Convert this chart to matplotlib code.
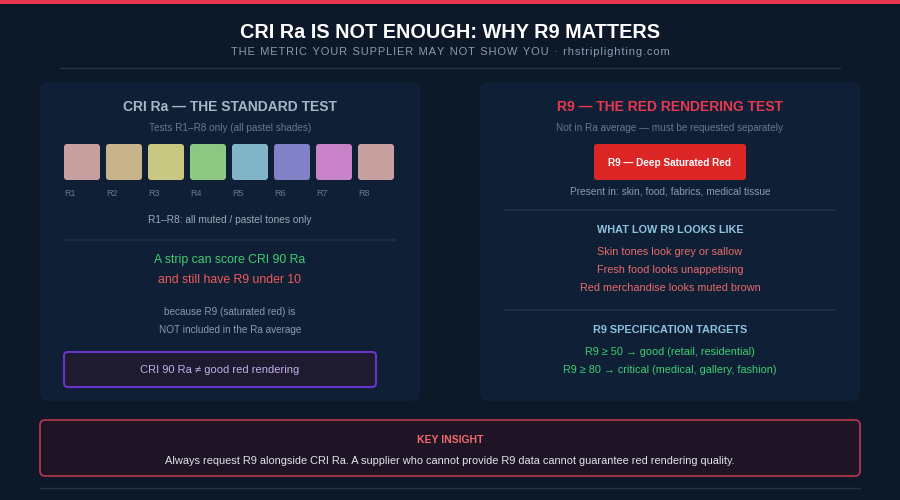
import matplotlib
matplotlib.use("Agg")
import matplotlib.pyplot as plt
from matplotlib.patches import FancyBboxPatch, Rectangle

plt.rcParams['font.family'] = ['Liberation Sans', 'DejaVu Sans']

swatch_labels = ["R1", "R2", "R3", "R4", "R5", "R6", "R7", "R8"]
swatch_colors = ["#c8a0a0", "#c8b48a", "#c8c882", "#8cc882", "#82b4c8", "#8282c8", "#c882c8", "#c8a0a0"]
low_r9_effects = ["Skin tones look grey or sallow", "Fresh food looks unappetising", "Red merchandise looks muted brown"]
targets = ["R9 ≥ 50 → good (retail, residential)", "R9 ≥ 80 → critical (medical, gallery, fashion)"]

BG = "#0d1829"
PANEL = "#0f2036"
fig = plt.figure(figsize=(9, 5), dpi=100, facecolor=BG)
ax = fig.add_axes([0, 0, 1, 1])
ax.set_xlim(0, 900); ax.set_ylim(500, 0); ax.axis("off")
ax.set_facecolor(BG)

def box(x, y, w, h, fc, ec="none", lw=0, r=6):
    ax.add_patch(FancyBboxPatch((x, y), w, h, boxstyle=f"round,pad=0,rounding_size={r}",
                                fc=fc, ec=ec, lw=lw))

def t(x, y, s, size, color, weight="normal", ha="center"):
    ax.text(x, y, s, fontsize=size, color=color, fontweight=weight, ha=ha, va="center")

ax.add_patch(Rectangle((0, 0), 900, 4, fc="#e8384f", ec="none"))
t(450, 32, "CRI Ra IS NOT ENOUGH: WHY R9 MATTERS", 14.3, "white", "bold")
sub = "THE METRIC YOUR SUPPLIER MAY NOT SHOW YOU · rhstriplighting.com"
sub = "\u200a".join(sub).replace("\u200a \u200a", "\u2009\u200a\u2009")
t(450, 52, sub, 8, "#8a9bb0")
ax.plot([60, 840], [68, 68], color="#22344c", lw=1)

# left panel
box(40, 82, 380, 319, PANEL, r=8)
t(230, 107, "CRI Ra — THE STANDARD TEST", 10, "#a9b6c6", "bold")
t(230, 128, "Tests R1–R8 only (all pastel shades)", 7.2, "#66788e")
for i, (lab, c) in enumerate(zip(swatch_labels, swatch_colors)):
    x = 64 + i * 42
    box(x, 144, 36, 36, c, r=3)
    t(x, 193, lab, 6.5, "#66788e", ha="left")
t(230, 220, "R1–R8: all muted / pastel tones only", 7.3, "#9aa8b8")
ax.plot([64, 396], [240, 240], color="#1e3048", lw=1.2)
t(230, 260, "A strip can score CRI 90 Ra", 8.8, "#3ecf72")
t(230, 280, "and still have R9 under 10", 8.8, "#f05a5a")
t(230, 312, "because R9 (saturated red) is", 7.2, "#8a9bb0")
t(230, 330, "NOT included in the Ra average", 7.2, "#8a9bb0")
box(64, 352, 312, 35, "#1e1a30", ec="#6a34c8", lw=1.5, r=4)
t(220, 370, "CRI 90 Ra ≠ good red rendering", 8, "#c0b0e6")

# right panel
box(480, 82, 380, 319, PANEL, r=8)
t(670, 107, "R9 — THE RED RENDERING TEST", 10, "#e8384f", "bold")
t(670, 128, "Not in Ra average — must be requested separately", 7.2, "#66788e")
box(594, 144, 152, 36, "#dc2626", r=3)
t(670, 163, "R9 — Deep Saturated Red", 7.2, "white", "bold")
t(670, 192, "Present in: skin, food, fabrics, medical tissue", 7.3, "#8a9bb0")
ax.plot([504, 836], [210, 210], color="#1e3048", lw=1.2)
t(670, 230, "WHAT LOW R9 LOOKS LIKE", 7.8, "#8ec3e0", "bold")
for i, s in enumerate(low_r9_effects):
    t(670, 252 + i * 18, s, 7.8, "#e86a6a")
ax.plot([504, 836], [310, 310], color="#1e3048", lw=1.2)
t(670, 330, "R9 SPECIFICATION TARGETS", 7.8, "#8ec3e0", "bold")
for i, s in enumerate(targets):
    t(670, 352 + i * 18, s, 7.8, "#3ecf72")

# key insight
box(40, 420, 820, 56, "#1f1326", ec="#b83a52", lw=1.2, r=5)
t(450, 440, "KEY INSIGHT", 7.5, "#f06a6a", "bold")
t(450, 461, "Always request R9 alongside CRI Ra. A supplier who cannot provide R9 data cannot guarantee red rendering quality.", 7.9, "#dfe4ea")
ax.plot([40, 860], [488, 488], color="#22344c", lw=1)

fig.savefig("out.png", dpi=100, facecolor=BG)
